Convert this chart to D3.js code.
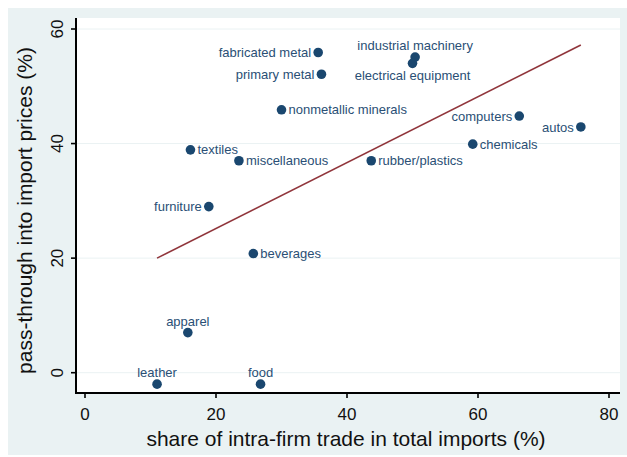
<!DOCTYPE html>
<html>
<head>
<meta charset="utf-8">
<script src="https://cdn.jsdelivr.net/npm/d3@7"></script>
<style>
  html, body { margin: 0; padding: 0; background: #ffffff; }
  svg { display: block; font-family: "Liberation Sans", Arial, Helvetica, sans-serif; }
</style>
</head>
<body>
<svg id="chart" width="627" height="457"></svg>
<script>
// Industries: share of intra-firm trade vs. pass-through into import prices
const industries = [
  "fabricated metal", "primary metal", "nonmetallic minerals", "textiles",
  "miscellaneous", "furniture", "industrial machinery", "electrical equipment",
  "computers", "autos", "chemicals", "rubber/plastics", "beverages",
  "apparel", "leather", "food"
];
const intraFirmShare = [35.6, 36.1, 30.0, 16.1, 23.5, 18.9, 50.4, 50.0, 66.3, 75.7, 59.2, 43.7, 25.7, 15.7, 11.0, 26.8];
const passThrough    = [55.9, 52.1, 45.9, 38.9, 37.0, 29.0, 55.1, 54.0, 44.8, 42.9, 39.9, 37.0, 20.8, 7.0, -2.0, -2.0];

// Linear fit endpoints
const fitX = [11.0, 75.7];
const fitY = [20.0, 57.2];

// Axis ticks
const xTicks = [0, 20, 40, 60, 80];
const yTicks = [0, 20, 40, 60];

// Marker label placement (clock-style: left, right, top, bottom)
const labelSide = {
  "fabricated metal": "left", "primary metal": "left", "nonmetallic minerals": "right",
  "textiles": "right", "miscellaneous": "right", "furniture": "left",
  "industrial machinery": "top", "electrical equipment": "bottom",
  "computers": "left", "autos": "left", "chemicals": "right",
  "rubber/plastics": "right", "beverages": "right", "apparel": "top",
  "leather": "top", "food": "top"
};

const svg = d3.select("#chart");
const plot = { left: 76, right: 620, top: 18, bottom: 393 };

const x = d3.scaleLinear().domain([0, 80]).range([85, 609]);
const y = d3.scaleLinear().domain([0, 60]).range([372.7, 29]);

// Outer graph region
svg.append("rect")
  .attr("x", 8).attr("y", 8).attr("width", 619).attr("height", 447)
  .attr("fill", "#eaf2f3");

// Plot region
svg.append("rect")
  .attr("x", plot.left).attr("y", plot.top)
  .attr("width", plot.right - plot.left).attr("height", plot.bottom - plot.top)
  .attr("fill", "#ffffff");

// Horizontal grid lines
svg.append("g").selectAll("line").data(yTicks).join("line")
  .attr("x1", plot.left).attr("x2", plot.right)
  .attr("y1", d => y(d)).attr("y2", d => y(d))
  .attr("stroke", "#eaf2f3").attr("stroke-width", 1);

// Fitted line
const fitLine = d3.line().x(d => x(d[0])).y(d => y(d[1]));
svg.append("path")
  .datum(fitX.map((v, i) => [v, fitY[i]]))
  .attr("d", fitLine)
  .attr("fill", "none")
  .attr("stroke", "#90353b")
  .attr("stroke-width", 1.6);

// Points
const pts = industries.map((name, i) => ({ name, xv: intraFirmShare[i], yv: passThrough[i] }));
svg.append("g").selectAll("circle").data(pts).join("circle")
  .attr("cx", d => x(d.xv)).attr("cy", d => y(d.yv))
  .attr("r", 4.8)
  .attr("fill", "#1a476f");

// Marker labels
const gap = 7;
svg.append("g").selectAll("text").data(pts).join("text")
  .attr("font-size", 13)
  .attr("fill", "#2a4f75")
  .each(function (d) {
    const side = labelSide[d.name];
    const cx = x(d.xv), cy = y(d.yv);
    const t = d3.select(this).text(d.name);
    if (side === "left") {
      t.attr("x", cx - gap).attr("y", cy + 4.6).attr("text-anchor", "end");
    } else if (side === "right") {
      t.attr("x", cx + gap).attr("y", cy + 4.6).attr("text-anchor", "start");
    } else if (side === "top") {
      t.attr("x", cx).attr("y", cy - gap).attr("text-anchor", "middle");
    } else {
      t.attr("x", cx).attr("y", cy + gap + 9.4).attr("text-anchor", "middle");
    }
  });

// Axes
const yAxis = svg.append("g");
yAxis.append("line")
  .attr("x1", plot.left).attr("x2", plot.left)
  .attr("y1", plot.top).attr("y2", plot.bottom)
  .attr("stroke", "#000").attr("stroke-width", 2);
yAxis.selectAll(".tick").data(yTicks).join("line")
  .attr("x1", plot.left - 5).attr("x2", plot.left)
  .attr("y1", d => y(d)).attr("y2", d => y(d))
  .attr("stroke", "#000").attr("stroke-width", 1.6);
yAxis.selectAll("text").data(yTicks).join("text")
  .attr("transform", d => `translate(63,${y(d)}) rotate(-90)`)
  .attr("text-anchor", "middle")
  .attr("font-size", 17)
  .attr("fill", "#111")
  .text(d => d);

const xAxis = svg.append("g");
xAxis.append("line")
  .attr("x1", plot.left - 1).attr("x2", plot.right)
  .attr("y1", plot.bottom).attr("y2", plot.bottom)
  .attr("stroke", "#000").attr("stroke-width", 2);
xAxis.selectAll(".tick").data(xTicks).join("line")
  .attr("x1", d => x(d)).attr("x2", d => x(d))
  .attr("y1", plot.bottom).attr("y2", plot.bottom + 5)
  .attr("stroke", "#000").attr("stroke-width", 1.6);
xAxis.selectAll("text").data(xTicks).join("text")
  .attr("x", d => x(d)).attr("y", 420)
  .attr("text-anchor", "middle")
  .attr("font-size", 17)
  .attr("fill", "#111")
  .text(d => d);

// Axis titles
svg.append("text")
  .attr("x", 346).attr("y", 446)
  .attr("text-anchor", "middle")
  .attr("font-size", 21)
  .attr("fill", "#111")
  .text("share of intra-firm trade in total imports (%)");

svg.append("text")
  .attr("transform", `translate(32,${(plot.top + plot.bottom) / 2 + 5}) rotate(-90)`)
  .attr("text-anchor", "middle")
  .attr("font-size", 21)
  .attr("fill", "#111")
  .text("pass-through into import prices (%)");
</script>
</body>
</html>
